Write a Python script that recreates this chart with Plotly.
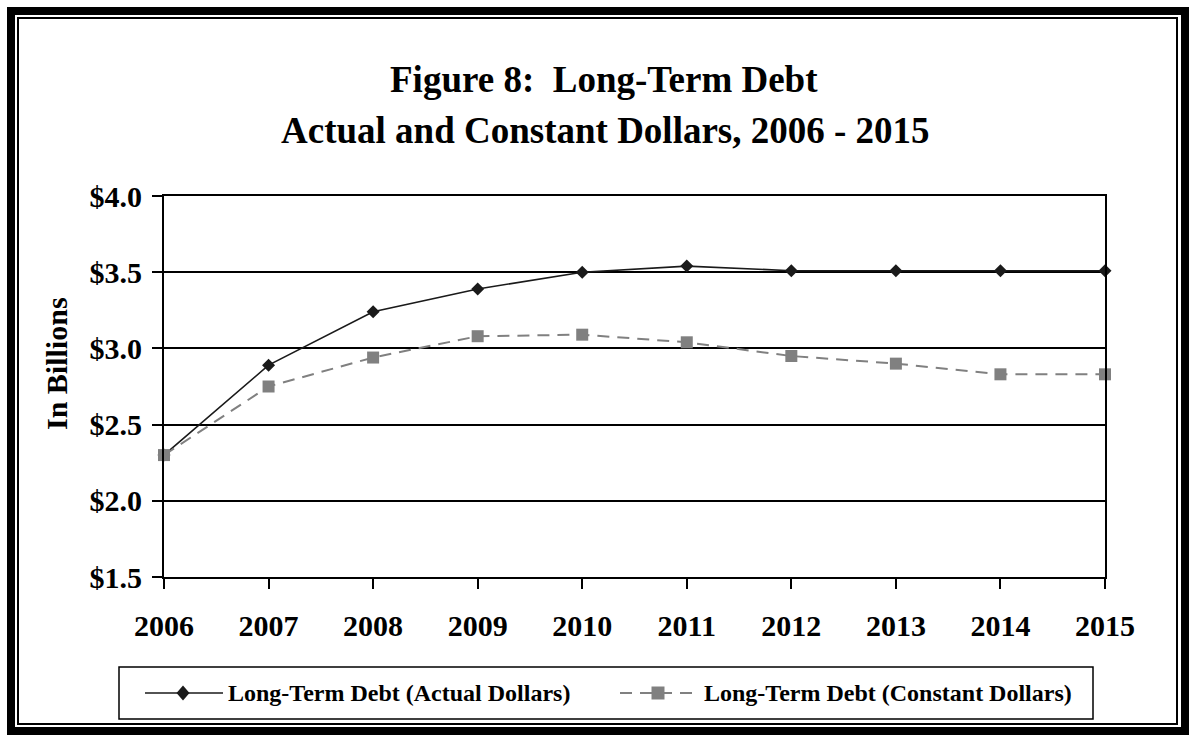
import plotly.graph_objects as go

# ---- data ----
years = [2006, 2007, 2008, 2009, 2010, 2011, 2012, 2013, 2014, 2015]
year_labels = [str(y) for y in years]
actual_dollars = [2.30, 2.89, 3.24, 3.39, 3.50, 3.54, 3.51, 3.51, 3.51, 3.51]
constant_dollars = [2.30, 2.75, 2.94, 3.08, 3.09, 3.04, 2.95, 2.90, 2.83, 2.83]
y_ticks = [1.5, 2.0, 2.5, 3.0, 3.5, 4.0]
y_tick_labels = ["$1.5", "$2.0", "$2.5", "$3.0", "$3.5", "$4.0"]
series_names = ["Long-Term Debt (Actual Dollars)", "Long-Term Debt (Constant Dollars)"]

# ---- page geometry (pixels) ----
W, H = 1196, 742
PL, PR, PT, PB = 164, 1105, 196, 577
FONT = "Liberation Serif"
DARK = "#1a1a1a"
GREY = "#808080"


def fx(px):
    return (px - PL) / (PR - PL)


def fy(py):
    return (PB - py) / (PB - PT)


fig = go.Figure()
fig.add_trace(go.Scatter(
    x=years, y=actual_dollars, name=series_names[0], mode="lines+markers",
    line=dict(color=DARK, width=1.6),
    marker=dict(symbol="diamond", size=10, color=DARK),
    cliponaxis=False, showlegend=False,
))
fig.add_trace(go.Scatter(
    x=years, y=constant_dollars, name=series_names[1], mode="lines+markers",
    line=dict(color=GREY, width=2, dash="12px,8px"),
    marker=dict(symbol="square", size=12, color=GREY),
    cliponaxis=False, showlegend=False,
))

shapes = []
# double frame around the page
shapes.append(dict(type="rect", xref="paper", yref="paper",
                   x0=fx(11), x1=fx(1185), y0=fy(731), y1=fy(11),
                   line=dict(color="black", width=8)))
shapes.append(dict(type="rect", xref="paper", yref="paper",
                   x0=fx(18), x1=fx(1177), y0=fy(724), y1=fy(18),
                   line=dict(color="black", width=2)))

# legend box with long sample lines
LY = 693
shapes.append(dict(type="rect", xref="paper", yref="paper",
                   x0=fx(119), x1=fx(1093), y0=fy(719), y1=fy(667),
                   line=dict(color="black", width=1.5)))
shapes.append(dict(type="line", xref="paper", yref="paper",
                   x0=fx(145), x1=fx(223), y0=fy(LY), y1=fy(LY),
                   line=dict(color=DARK, width=1.6)))
cx, dx, dy = 183, 6.5, 7.5
shapes.append(dict(type="path", xref="paper", yref="paper",
                   path=(f"M {fx(cx - dx)},{fy(LY)} L {fx(cx)},{fy(LY - dy)} "
                         f"L {fx(cx + dx)},{fy(LY)} L {fx(cx)},{fy(LY + dy)} Z"),
                   fillcolor=DARK, line=dict(width=0)))
shapes.append(dict(type="line", xref="paper", yref="paper",
                   x0=fx(620), x1=fx(698), y0=fy(LY), y1=fy(LY),
                   line=dict(color=GREY, width=2, dash="12px,8px")))
sx, sh = 658, 6.5
shapes.append(dict(type="rect", xref="paper", yref="paper",
                   x0=fx(sx - sh), x1=fx(sx + sh), y0=fy(LY + sh), y1=fy(LY - sh),
                   fillcolor=GREY, line=dict(width=0)))

annotations = [
    dict(text="Figure 8:\u00a0 Long-Term Debt", xref="paper", yref="paper",
         x=fx(604), y=fy(80), xanchor="center", yanchor="middle", showarrow=False,
         font=dict(family=FONT, size=37, color="black", weight="bold")),
    dict(text="Actual and Constant Dollars, 2006 - 2015", xref="paper", yref="paper",
         x=fx(605), y=fy(130), xanchor="center", yanchor="middle", showarrow=False,
         font=dict(family=FONT, size=37, color="black", weight="bold")),
    dict(text="In Billions", xref="paper", yref="paper", textangle=-90,
         x=fx(56), y=fy(364), xanchor="center", yanchor="middle", showarrow=False,
         font=dict(family=FONT, size=30, color="black", weight="bold")),
    dict(text=series_names[0], xref="paper", yref="paper",
         x=fx(226), y=fy(LY), xanchor="left", yanchor="middle", showarrow=False,
         font=dict(family=FONT, size=24, color="black", weight="bold")),
    dict(text=series_names[1], xref="paper", yref="paper",
         x=fx(702), y=fy(LY), xanchor="left", yanchor="middle", showarrow=False,
         font=dict(family=FONT, size=24, color="black", weight="bold")),
]

fig.update_layout(
    width=W, height=H,
    margin=dict(l=PL, r=W - PR, t=PT, b=H - PB, pad=0),
    paper_bgcolor="white", plot_bgcolor="white",
    showlegend=False,
    shapes=shapes, annotations=annotations,
)
fig.update_xaxes(
    range=[years[0], years[-1]], tickvals=years, ticktext=year_labels,
    showgrid=False, zeroline=False,
    showline=True, linecolor="black", linewidth=2, mirror=True,
    ticks="outside", ticklen=10, tickwidth=1.5, tickcolor="black",
    ticklabelstandoff=11,
    tickfont=dict(family=FONT, size=30, color="black", weight="bold"),
)
fig.update_yaxes(
    range=[y_ticks[0], y_ticks[-1]], tickvals=y_ticks, ticktext=y_tick_labels,
    showgrid=True, gridcolor="black", gridwidth=2, zeroline=False,
    showline=True, linecolor="black", linewidth=2, mirror=True,
    ticks="outside", ticklen=10, tickwidth=2, tickcolor="black",
    ticklabelstandoff=4,
    tickfont=dict(family=FONT, size=30, color="black", weight="bold"),
)

fig.write_html("out.html")
